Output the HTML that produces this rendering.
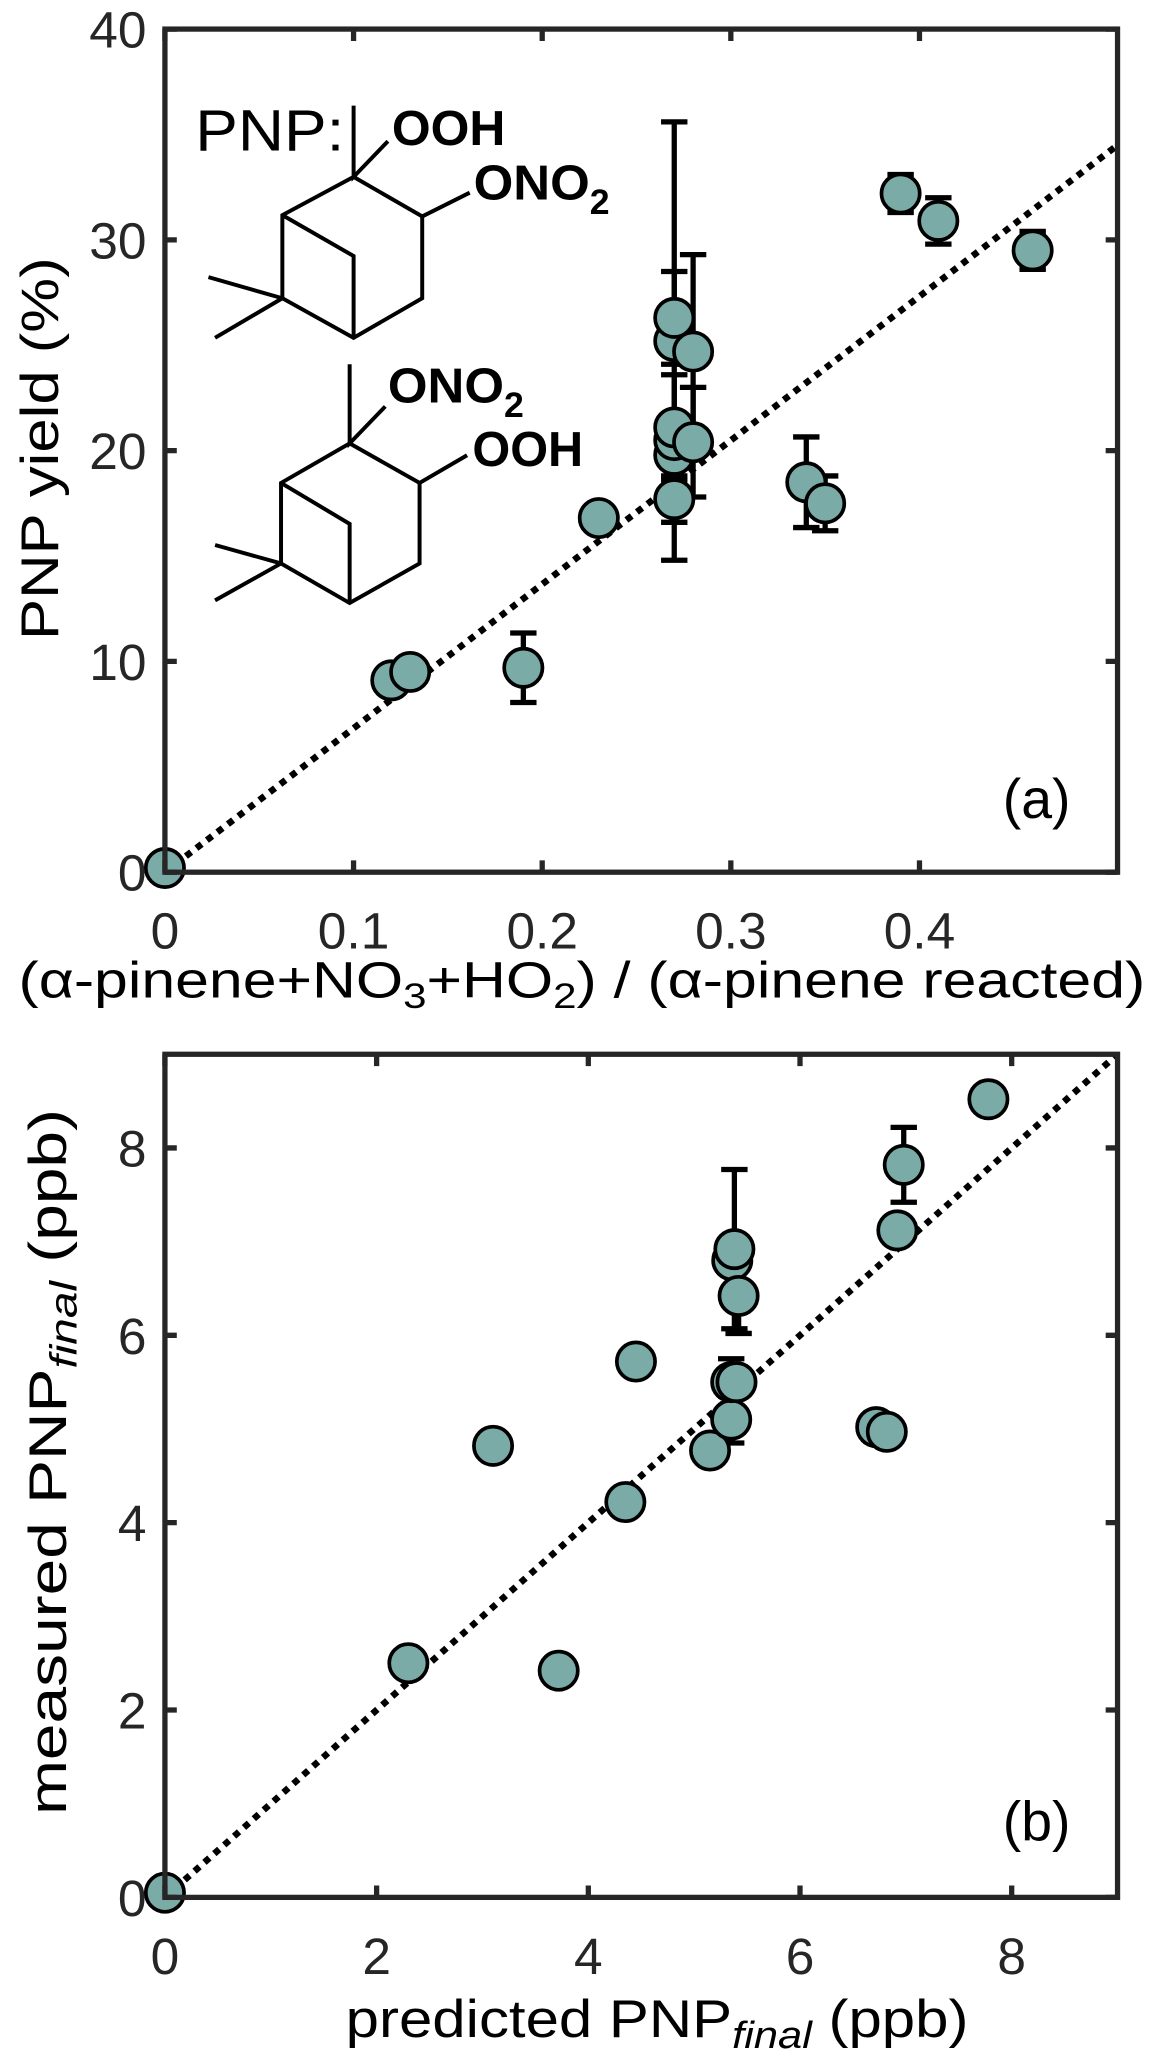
<!DOCTYPE html>
<html><head><meta charset="utf-8"><style>
html,body{margin:0;padding:0;background:#fff;}
svg{display:block;}
text{font-family:"Liberation Sans",sans-serif;fill:#262626;}
</style></head><body>
<svg id="fig" width="1169" height="2065" viewBox="0 0 886 1565" xmlns="http://www.w3.org/2000/svg">
<g id="molecules" stroke="#000" stroke-width="3" fill="none" stroke-linejoin="miter">
  <g>
    <polyline points="268,80 268,134 294,107"/>
    <polygon points="268,134 320,164 320,226 268,256 214,226 214,163"/>
    <polyline points="214,163 268,194 268,256"/>
    <line x1="320" y1="164" x2="356" y2="146"/>
    <line x1="214" y1="226" x2="158" y2="210"/>
    <line x1="214" y1="226" x2="163" y2="256"/>
  </g>
  <g>
    <polyline points="265,276 265,336 292,308"/>
    <polygon points="265,336 318,366 318,427 265,457 213,427 213,366"/>
    <polyline points="213,366 265,397 265,457"/>
    <line x1="318" y1="366" x2="354" y2="345"/>
    <line x1="213" y1="427" x2="163" y2="413"/>
    <line x1="213" y1="427" x2="163" y2="455"/>
  </g>
</g>
<text x="148" y="114" style="font-size:44px;fill:#000" textLength="113" lengthAdjust="spacingAndGlyphs">PNP:</text>
<text x="297" y="110" style="font-size:37px;font-weight:bold;fill:#000" textLength="86" lengthAdjust="spacingAndGlyphs">OOH</text>
<text x="359" y="151" style="font-size:37px;font-weight:bold;fill:#000" textLength="88" lengthAdjust="spacingAndGlyphs">ONO</text>
<text x="447" y="162" style="font-size:27px;font-weight:bold;fill:#000">2</text>
<text x="294" y="305" style="font-size:37px;font-weight:bold;fill:#000" textLength="88" lengthAdjust="spacingAndGlyphs">ONO</text>
<text x="382" y="316" style="font-size:27px;font-weight:bold;fill:#000">2</text>
<text x="358" y="353" style="font-size:37px;font-weight:bold;fill:#000" textLength="84" lengthAdjust="spacingAndGlyphs">OOH</text>
<g id="pa"></g>
<g id="pb"></g>
<text x="760" y="620" style="font-size:42px;fill:#000">(a)</text>
<text x="760" y="1395" style="font-size:42px;fill:#000">(b)</text>
<text x="14" y="756" style="font-size:39px;fill:#000" textLength="854" lengthAdjust="spacingAndGlyphs">(α-pinene+NO<tspan style="font-size:27px" dy="8">3</tspan><tspan dy="-8">+HO</tspan><tspan style="font-size:27px" dy="8">2</tspan><tspan dy="-8">) / (α-pinene reacted)</tspan></text>
<text transform="translate(44,340) rotate(-90)" text-anchor="middle" style="font-size:40px;fill:#000" textLength="290" lengthAdjust="spacingAndGlyphs">PNP yield (%)</text>
<text x="262" y="1544" style="font-size:40px;fill:#000" textLength="472" lengthAdjust="spacingAndGlyphs">predicted PNP<tspan style="font-size:29px;font-style:italic" dy="8">final</tspan><tspan dy="-8"> (ppb)</tspan></text>
<text transform="translate(50,1108) rotate(-90)" text-anchor="middle" style="font-size:40px;fill:#000" textLength="535" lengthAdjust="spacingAndGlyphs">measured PNP<tspan style="font-size:29px;font-style:italic" dy="8">final</tspan><tspan dy="-8"> (ppb)</tspan></text>
</svg>
<script>
// Panel A data
const aX = [0, 0.12, 0.13, 0.19, 0.23, 0.27, 0.27, 0.27, 0.27, 0.27, 0.27, 0.28, 0.28, 0.34, 0.35, 0.39, 0.41, 0.46];
const aY = [0.2, 9.1, 9.5, 9.7, 16.8, 25.2, 26.3, 19.8, 20.5, 21.1, 17.7, 24.7, 20.4, 18.5, 17.5, 32.2, 30.9, 29.5];
const aErr = [0, 0, 0, 1.65, 0, 10.4, 2.2, 0, 0, 2.5, 1.1, 4.6, 2.6, 2.15, 1.3, 0.9, 1.1, 0.9];
const aXTicks = [0, 0.1, 0.2, 0.3, 0.4];
const aXTickLabels = ["0", "0.1", "0.2", "0.3", "0.4"];
const aYTicks = [0, 10, 20, 30, 40];
const aYTickLabels = ["0", "10", "20", "30", "40"];
const aSlope = 68.3;
// Panel B data
const bX = [0, 2.3, 3.1, 3.72, 4.35, 4.45, 5.15, 5.35, 5.35, 5.4, 5.36, 5.38, 5.42, 6.72, 6.82, 6.92, 6.98, 7.78];
const bY = [0.05, 2.5, 4.82, 2.42, 4.22, 5.72, 4.77, 5.1, 5.5, 5.5, 6.8, 6.92, 6.42, 5.02, 4.97, 7.12, 7.82, 8.52];
const bErr = [0, 0, 0, 0, 0, 0, 0, 0.25, 0.25, 0, 0, 0.85, 0.4, 0.15, 0, 0, 0.4, 0];
const bXTicks = [0, 2, 4, 6, 8];
const bXTickLabels = ["0", "2", "4", "6", "8"];
const bYTicks = [0, 2, 4, 6, 8];
const bYTickLabels = ["0", "2", "4", "6", "8"];
const bSlope = 1;

const NS = "http://www.w3.org/2000/svg";
function mk(tag, attrs, parent){const e=document.createElementNS(NS,tag);for(const k in attrs)e.setAttribute(k,attrs[k]);parent.appendChild(e);return e;}

function panel(g, cfg){
  const sx = v => cfg.L + v / cfg.xmax * (cfg.R - cfg.L);
  const sy = v => cfg.B - v / cfg.ymax * (cfg.B - cfg.T);
  const xe = cfg.xmax, ye = Math.min(cfg.slope*xe, cfg.ymax);
  const ln = mk("line",{x1:sx(0),y1:sy(0),x2:sx(ye/cfg.slope),y2:sy(ye),stroke:"#000","stroke-width":5,"stroke-dasharray":"5 5"},g);
  
  
  for(let i=0;i<cfg.x.length;i++){
    if(!cfg.err[i]) continue;
    const x=sx(cfg.x[i]), y1=sy(cfg.y[i]-cfg.err[i]), y2=sy(cfg.y[i]+cfg.err[i]);
    const eb = mk("path",{d:`M${x},${y1}V${y2}M${x-10},${y1}H${x+10}M${x-10},${y2}H${x+10}`,stroke:"#000","stroke-width":4,fill:"none"},g);
    
    
  }
  for(let i=0;i<cfg.x.length;i++){
    const c = mk("circle",{cx:sx(cfg.x[i]),cy:sy(cfg.y[i]),r:14.5,fill:"#7aaba6",stroke:"#000","stroke-width":2.8},g);
    
    
  }
  const bx = mk("rect",{x:cfg.L,y:cfg.T,width:cfg.R-cfg.L,height:cfg.B-cfg.T,fill:"none",stroke:"#262626","stroke-width":4},g);
  
  
  cfg.xt.forEach((v,i)=>{
    const x=sx(v);
    mk("path",{d:`M${x},${cfg.B}v-9M${x},${cfg.T}v9`,stroke:"#262626","stroke-width":4},g);
    const t = mk("text",{x:x,y:cfg.B+58,"text-anchor":"middle",style:"font-size:39px"},g);
    t.textContent = cfg.xtl[i];
    
    
  });
  cfg.yt.forEach((v,i)=>{
    const y=sy(v);
    mk("path",{d:`M${cfg.L},${y}h9M${cfg.R},${y}h-9`,stroke:"#262626","stroke-width":4},g);
    const t = mk("text",{x:cfg.L-14,y:y+14,"text-anchor":"end",style:"font-size:39px"},g);
    t.textContent = cfg.ytl[i];
    
    
  });
}
panel(document.getElementById("pa"),{L:125,R:847,T:22,B:661,xmax:0.505,ymax:40,slope:aSlope,x:aX,y:aY,err:aErr,xt:aXTicks,xtl:aXTickLabels,yt:aYTicks,ytl:aYTickLabels});
panel(document.getElementById("pb"),{L:125,R:847,T:799,B:1438,xmax:9,ymax:9,slope:bSlope,x:bX,y:bY,err:bErr,xt:bXTicks,xtl:bXTickLabels,yt:bYTicks,ytl:bYTickLabels});
</script>
</body></html>
